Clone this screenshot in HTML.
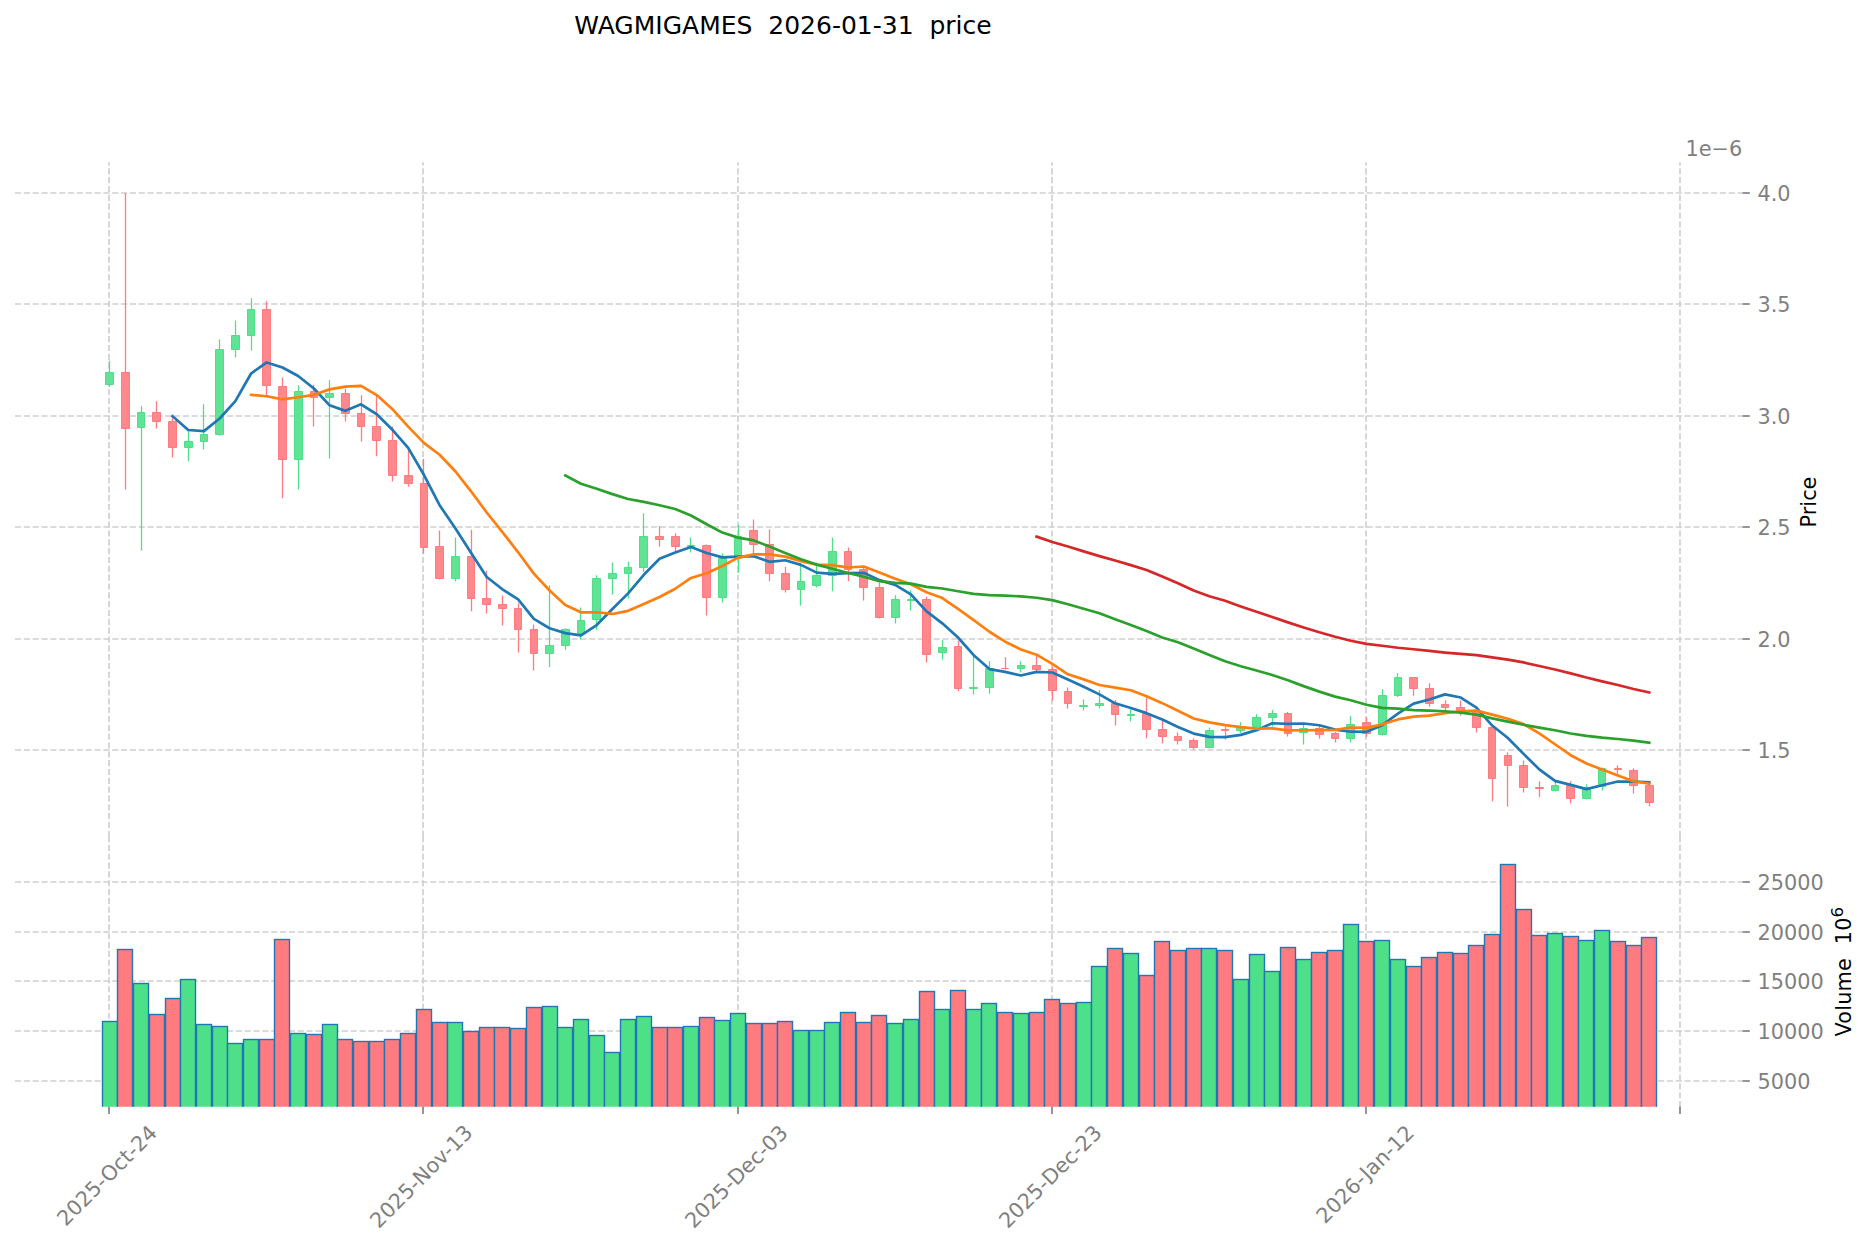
<!DOCTYPE html>
<html lang="en"><head><meta charset="utf-8"><title>WAGMIGAMES 2026-01-31 price</title>
<style>html,body{margin:0;padding:0;background:#fff}svg{display:block}text{font-family:"DejaVu Sans", "Liberation Sans", sans-serif;white-space:pre}</style></head><body>
<svg width="1872" height="1246" viewBox="0 0 1872 1246">
<rect width="1872" height="1246" fill="#fff"/>
<g fill="none" stroke="#cfcfcf" stroke-width="1.67">
<g stroke-dasharray="6.1667 2.6667">
<path d="M15 193H1742.5"/>
<path d="M15 304H1742.5"/>
<path d="M15 416H1742.5"/>
<path d="M15 527H1742.5"/>
<path d="M15 639H1742.5"/>
<path d="M15 750H1742.5"/>
<path d="M15 882H1742.5"/>
<path d="M15 932H1742.5"/>
<path d="M15 981H1742.5"/>
<path d="M15 1031H1742.5"/>
<path d="M15 1081H1742.5"/>
</g><g stroke-dasharray="6.1667 2.6667">
<path d="M109 1107.2V836.9"/>
<path d="M109 836.9V162.3"/>
<path d="M423 1107.2V836.9"/>
<path d="M423 836.9V162.3"/>
<path d="M738 1107.2V836.9"/>
<path d="M738 836.9V162.3"/>
<path d="M1052 1107.2V836.9"/>
<path d="M1052 836.9V162.3"/>
<path d="M1366 1107.2V836.9"/>
<path d="M1366 836.9V162.3"/>
<path d="M1680 1107.2V836.9"/>
<path d="M1680 836.9V162.3"/>
</g></g>
<g fill="none" stroke="#808080" stroke-width="1.67">
<path d="M1742.5 193h7.3"/>
<path d="M1742.5 304h7.3"/>
<path d="M1742.5 416h7.3"/>
<path d="M1742.5 527h7.3"/>
<path d="M1742.5 639h7.3"/>
<path d="M1742.5 750h7.3"/>
<path d="M1742.5 882h7.3"/>
<path d="M1742.5 932h7.3"/>
<path d="M1742.5 981h7.3"/>
<path d="M1742.5 1031h7.3"/>
<path d="M1742.5 1081h7.3"/>
<path d="M109 1106.6v7.3"/>
<path d="M423 1106.6v7.3"/>
<path d="M738 1106.6v7.3"/>
<path d="M1052 1106.6v7.3"/>
<path d="M1366 1106.6v7.3"/>
<path d="M1680 1106.6v7.3"/>
</g>
<clipPath id="vc"><rect x="0" y="840" width="1872" height="266.7"/></clipPath>
<g stroke="#1f77b4" stroke-width="1.4" clip-path="url(#vc)">
<rect x="102.5" y="1021.5" width="15" height="88.1" fill="#4ee089"/>
<rect x="117.5" y="949.5" width="15" height="160.1" fill="#ff7b80"/>
<rect x="133.5" y="983.5" width="15" height="126.1" fill="#4ee089"/>
<rect x="149.5" y="1014.5" width="15" height="95.1" fill="#ff7b80"/>
<rect x="165.5" y="998.5" width="15" height="111.1" fill="#ff7b80"/>
<rect x="180.5" y="979.5" width="15" height="130.1" fill="#4ee089"/>
<rect x="196.5" y="1024.5" width="15" height="85.1" fill="#4ee089"/>
<rect x="212.5" y="1026.5" width="15" height="83.1" fill="#4ee089"/>
<rect x="227.5" y="1043.5" width="15" height="66.1" fill="#4ee089"/>
<rect x="243.5" y="1039.5" width="15" height="70.1" fill="#4ee089"/>
<rect x="259.5" y="1039.5" width="15" height="70.1" fill="#ff7b80"/>
<rect x="274.5" y="939.5" width="15" height="170.1" fill="#ff7b80"/>
<rect x="290.5" y="1033.5" width="15" height="76.1" fill="#4ee089"/>
<rect x="306.5" y="1034.5" width="15" height="75.1" fill="#ff7b80"/>
<rect x="322.5" y="1024.5" width="15" height="85.1" fill="#4ee089"/>
<rect x="337.5" y="1039.5" width="15" height="70.1" fill="#ff7b80"/>
<rect x="353.5" y="1041.5" width="15" height="68.1" fill="#ff7b80"/>
<rect x="369.5" y="1041.5" width="15" height="68.1" fill="#ff7b80"/>
<rect x="384.5" y="1039.5" width="15" height="70.1" fill="#ff7b80"/>
<rect x="400.5" y="1033.5" width="15" height="76.1" fill="#ff7b80"/>
<rect x="416.5" y="1009.5" width="15" height="100.1" fill="#ff7b80"/>
<rect x="432.5" y="1022.5" width="15" height="87.1" fill="#ff7b80"/>
<rect x="447.5" y="1022.5" width="15" height="87.1" fill="#4ee089"/>
<rect x="463.5" y="1031.5" width="15" height="78.1" fill="#ff7b80"/>
<rect x="479.5" y="1027.5" width="15" height="82.1" fill="#ff7b80"/>
<rect x="494.5" y="1027.5" width="15" height="82.1" fill="#ff7b80"/>
<rect x="510.5" y="1028.5" width="15" height="81.1" fill="#ff7b80"/>
<rect x="526.5" y="1007.5" width="15" height="102.1" fill="#ff7b80"/>
<rect x="542.5" y="1006.5" width="15" height="103.1" fill="#4ee089"/>
<rect x="557.5" y="1027.5" width="15" height="82.1" fill="#4ee089"/>
<rect x="573.5" y="1019.5" width="15" height="90.1" fill="#4ee089"/>
<rect x="589.5" y="1035.5" width="15" height="74.1" fill="#4ee089"/>
<rect x="604.5" y="1052.5" width="15" height="57.1" fill="#4ee089"/>
<rect x="620.5" y="1019.5" width="15" height="90.1" fill="#4ee089"/>
<rect x="636.5" y="1016.5" width="15" height="93.1" fill="#4ee089"/>
<rect x="652.5" y="1027.5" width="15" height="82.1" fill="#ff7b80"/>
<rect x="667.5" y="1027.5" width="15" height="82.1" fill="#ff7b80"/>
<rect x="683.5" y="1026.5" width="15" height="83.1" fill="#4ee089"/>
<rect x="699.5" y="1017.5" width="15" height="92.1" fill="#ff7b80"/>
<rect x="714.5" y="1020.5" width="15" height="89.1" fill="#4ee089"/>
<rect x="730.5" y="1013.5" width="15" height="96.1" fill="#4ee089"/>
<rect x="746.5" y="1023.5" width="15" height="86.1" fill="#ff7b80"/>
<rect x="762.5" y="1023.5" width="15" height="86.1" fill="#ff7b80"/>
<rect x="777.5" y="1021.5" width="15" height="88.1" fill="#ff7b80"/>
<rect x="793.5" y="1030.5" width="15" height="79.1" fill="#4ee089"/>
<rect x="809.5" y="1030.5" width="15" height="79.1" fill="#4ee089"/>
<rect x="824.5" y="1022.5" width="15" height="87.1" fill="#4ee089"/>
<rect x="840.5" y="1012.5" width="15" height="97.1" fill="#ff7b80"/>
<rect x="856.5" y="1022.5" width="15" height="87.1" fill="#ff7b80"/>
<rect x="871.5" y="1015.5" width="15" height="94.1" fill="#ff7b80"/>
<rect x="887.5" y="1023.5" width="15" height="86.1" fill="#4ee089"/>
<rect x="903.5" y="1019.5" width="15" height="90.1" fill="#4ee089"/>
<rect x="919.5" y="991.5" width="15" height="118.1" fill="#ff7b80"/>
<rect x="934.5" y="1009.5" width="15" height="100.1" fill="#4ee089"/>
<rect x="950.5" y="990.5" width="15" height="119.1" fill="#ff7b80"/>
<rect x="966.5" y="1009.5" width="15" height="100.1" fill="#4ee089"/>
<rect x="981.5" y="1003.5" width="15" height="106.1" fill="#4ee089"/>
<rect x="997.5" y="1012.5" width="15" height="97.1" fill="#ff7b80"/>
<rect x="1013.5" y="1013.5" width="15" height="96.1" fill="#4ee089"/>
<rect x="1029.5" y="1012.5" width="15" height="97.1" fill="#ff7b80"/>
<rect x="1044.5" y="999.5" width="15" height="110.1" fill="#ff7b80"/>
<rect x="1060.5" y="1003.5" width="15" height="106.1" fill="#ff7b80"/>
<rect x="1076.5" y="1002.5" width="15" height="107.1" fill="#4ee089"/>
<rect x="1091.5" y="966.5" width="15" height="143.1" fill="#4ee089"/>
<rect x="1107.5" y="948.5" width="15" height="161.1" fill="#ff7b80"/>
<rect x="1123.5" y="953.5" width="15" height="156.1" fill="#4ee089"/>
<rect x="1139.5" y="975.5" width="15" height="134.1" fill="#ff7b80"/>
<rect x="1154.5" y="941.5" width="15" height="168.1" fill="#ff7b80"/>
<rect x="1170.5" y="950.5" width="15" height="159.1" fill="#ff7b80"/>
<rect x="1186.5" y="948.5" width="15" height="161.1" fill="#ff7b80"/>
<rect x="1201.5" y="948.5" width="15" height="161.1" fill="#4ee089"/>
<rect x="1217.5" y="950.5" width="15" height="159.1" fill="#ff7b80"/>
<rect x="1233.5" y="979.5" width="15" height="130.1" fill="#4ee089"/>
<rect x="1249.5" y="954.5" width="15" height="155.1" fill="#4ee089"/>
<rect x="1264.5" y="971.5" width="15" height="138.1" fill="#4ee089"/>
<rect x="1280.5" y="947.5" width="15" height="162.1" fill="#ff7b80"/>
<rect x="1296.5" y="959.5" width="15" height="150.1" fill="#4ee089"/>
<rect x="1311.5" y="952.5" width="15" height="157.1" fill="#ff7b80"/>
<rect x="1327.5" y="950.5" width="15" height="159.1" fill="#ff7b80"/>
<rect x="1343.5" y="924.5" width="15" height="185.1" fill="#4ee089"/>
<rect x="1358.5" y="941.5" width="15" height="168.1" fill="#ff7b80"/>
<rect x="1374.5" y="940.5" width="15" height="169.1" fill="#4ee089"/>
<rect x="1390.5" y="959.5" width="15" height="150.1" fill="#4ee089"/>
<rect x="1406.5" y="966.5" width="15" height="143.1" fill="#ff7b80"/>
<rect x="1421.5" y="957.5" width="15" height="152.1" fill="#ff7b80"/>
<rect x="1437.5" y="952.5" width="15" height="157.1" fill="#ff7b80"/>
<rect x="1453.5" y="953.5" width="15" height="156.1" fill="#ff7b80"/>
<rect x="1468.5" y="945.5" width="15" height="164.1" fill="#ff7b80"/>
<rect x="1484.5" y="934.5" width="15" height="175.1" fill="#ff7b80"/>
<rect x="1500.5" y="864.5" width="15" height="245.1" fill="#ff7b80"/>
<rect x="1516.5" y="909.5" width="15" height="200.1" fill="#ff7b80"/>
<rect x="1531.5" y="935.5" width="15" height="174.1" fill="#ff7b80"/>
<rect x="1547.5" y="933.5" width="15" height="176.1" fill="#4ee089"/>
<rect x="1563.5" y="936.5" width="15" height="173.1" fill="#ff7b80"/>
<rect x="1578.5" y="940.5" width="15" height="169.1" fill="#4ee089"/>
<rect x="1594.5" y="930.5" width="15" height="179.1" fill="#4ee089"/>
<rect x="1610.5" y="941.5" width="15" height="168.1" fill="#ff7b80"/>
<rect x="1626.5" y="945.5" width="15" height="164.1" fill="#ff7b80"/>
<rect x="1641.5" y="937.5" width="15" height="172.1" fill="#ff7b80"/>
</g>
<path d="M109.5 360.8V372M109.5 385V387.1M141.5 406.3V412M141.5 428V550.4M188.5 429V441M188.5 448V461.2M203.5 404.3V434M203.5 442V449.4M219.5 339.5V349M219.5 435V435.7M235.5 320.5V335M235.5 350V357.6M251.5 298.3V309M251.5 336V350.4M298.5 385.3V391M298.5 460V489.6M329.5 380.3V393M329.5 398V458.4M455.5 537.5V556M455.5 579V581.2M549.5 585.3V645M549.5 654V667.1M565.5 628.2V629M565.5 646V649.7M580.5 607.5V620M580.5 634V639.7M596.5 575.3V578M596.5 620V629.7M612.5 562.5V573M612.5 579V594.6M628.5 561.7V567M628.5 574V598.7M643.5 513.3V536M643.5 568V572.1M690.5 537.5V545M690.5 547V552.4M722.5 553.3V558M722.5 598V602.6M738.5 525V536M738.5 559V572.9M800.5 563.3V581M800.5 590V605.4M816.5 562.5V575M816.5 586V587.6M832.5 537.5V551M832.5 576V591.2M895.5 595.3V599M895.5 618V623.4M910.5 590.3V599M910.5 601V610.4M942.5 639.7V647M942.5 653V659.6M973.5 655V687M973.5 689V694.6M989.5 661.3V668M989.5 688V693.7M1020.5 661.3V665M1020.5 669V672.4M1083.5 699.5V705M1083.5 707V710.4M1099.5 690V703M1099.5 706V708.4M1130.5 709.2V714M1130.5 716V721.2M1209.5 727.5V730M1209.5 748V748.4M1240.5 722.2V726M1240.5 731V732.9M1256.5 714.2V717M1256.5 727V727.9M1272.5 710V713M1272.5 718V726.4M1303.5 725V728M1303.5 733V744.6M1350.5 716.3V724M1350.5 739V742.6M1382.5 689.2V695M1382.5 735V735.4M1397.5 673.3V677M1397.5 696V697.1M1555.5 781V785M1555.5 791V791.2M1586.5 784.2V787M1586.5 799V799.6M1602.5 767.5V768M1602.5 787V790.4" fill="none" stroke="#4ee089" stroke-width="1.3"/>
<path d="M125.5 192.9V372M125.5 429V489.6M156.5 401.3V412M156.5 422V428.4M172.5 416.7V421M172.5 448V457.4M266.5 301.3V309M266.5 386V397.1M282.5 377.5V386M282.5 460V497.9M313.5 384.7V391M313.5 398V426.6M345.5 388.7V393M345.5 414V421.4M361.5 395.3V413M361.5 427V441.4M376.5 395V426M376.5 441V456.2M392.5 426.5V440M392.5 476V481.6M408.5 447V475M408.5 484V486.7M423.5 458.7V483M423.5 548V553.4M439.5 530.5V546M439.5 579V579.6M471.5 529.7V556M471.5 599V611.2M486.5 570.8V598M486.5 605V613.4M502.5 595.5V604M502.5 609V625.4M518.5 603.3V608M518.5 630V652.4M533.5 624.5V629M533.5 654V670.4M659.5 526.3V536M659.5 540V546.7M675.5 533.3V536M675.5 547V551.2M706.5 544.5V545M706.5 598V615.4M753.5 519.5V530M753.5 545V553.7M769.5 529.5V544M769.5 574V581.2M785.5 566.7V573M785.5 590V592.4M848.5 547.5V551M848.5 570V581.2M863.5 568V569M863.5 588V600.4M879.5 582.5V587M879.5 618V618.4M926.5 596.7V599M926.5 655V662.4M958.5 640.8V646M958.5 689V691.2M1005.5 657.2V668M1005.5 669V669.6M1036.5 655V665M1036.5 670V671.2M1052.5 666.7V669M1052.5 691V700.4M1067.5 687.5V691M1067.5 704V708.4M1115.5 700V703M1115.5 715V725.4M1146.5 697.2V713M1146.5 730V738.2M1162.5 720.8V729M1162.5 737V743.4M1177.5 732.5V736M1177.5 741V744.6M1193.5 738.3V740M1193.5 748V749.6M1225.5 726.7V729M1225.5 731V739.6M1287.5 712V713M1287.5 734V736.6M1319.5 725.8V728M1319.5 735V738.7M1335.5 732V733M1335.5 739V742.6M1366.5 717.5V722M1366.5 734V737.1M1413.5 689V695.7M1429.5 683.3V688M1429.5 704V706.7M1445.5 700.3V704M1445.5 708V710.4M1460.5 700.6V707M1460.5 711V715.8M1476.5 710V711M1476.5 728V732.4M1492.5 726.5V727M1492.5 779V801.2M1507.5 752.3V755M1507.5 766V806.4M1523.5 760.4V765M1523.5 788V792.6M1539.5 781.3V787M1539.5 789V797.2M1570.5 781.3V785M1570.5 799V803.4M1617.5 765.3V768M1617.5 770V773.7M1633.5 768.3V770M1633.5 786V793.4M1649.5 784.5V785M1649.5 803V806.2" fill="none" stroke="#ff7b80" stroke-width="1.3"/>
<g fill="#60e395" stroke="#4ee089" stroke-width="1"><path d="M105.5 372.5H113.5V384.5H105.5Z"/><path d="M137.5 412.5H144.5V427.5H137.5Z"/><path d="M184.5 441.5H192.5V447.5H184.5Z"/><path d="M200.5 434.5H207.5V441.5H200.5Z"/><path d="M215.5 349.5H223.5V434.5H215.5Z"/><path d="M231.5 335.5H239.5V349.5H231.5Z"/><path d="M247.5 309.5H254.5V335.5H247.5Z"/><path d="M294.5 391.5H302.5V459.5H294.5Z"/><path d="M325.5 393.5H333.5V397.5H325.5Z"/><path d="M451.5 556.5H459.5V578.5H451.5Z"/><path d="M545.5 645.5H553.5V653.5H545.5Z"/><path d="M561.5 629.5H569.5V645.5H561.5Z"/><path d="M577.5 620.5H584.5V633.5H577.5Z"/><path d="M592.5 578.5H600.5V619.5H592.5Z"/><path d="M608.5 573.5H616.5V578.5H608.5Z"/><path d="M624.5 567.5H631.5V573.5H624.5Z"/><path d="M639.5 536.5H647.5V567.5H639.5Z"/><path d="M687.5 545.5H694.5V546.5H687.5Z"/><path d="M718.5 558.5H726.5V597.5H718.5Z"/><path d="M734.5 536.5H741.5V558.5H734.5Z"/><path d="M797.5 581.5H804.5V589.5H797.5Z"/><path d="M812.5 575.5H820.5V585.5H812.5Z"/><path d="M828.5 551.5H836.5V575.5H828.5Z"/><path d="M891.5 599.5H899.5V617.5H891.5Z"/><path d="M907.5 599.5H914.5V600.5H907.5Z"/><path d="M938.5 647.5H946.5V652.5H938.5Z"/><path d="M969.5 687.5H977.5V688.5H969.5Z"/><path d="M985.5 668.5H993.5V687.5H985.5Z"/><path d="M1017.5 665.5H1024.5V668.5H1017.5Z"/><path d="M1079.5 705.5H1087.5V706.5H1079.5Z"/><path d="M1095.5 703.5H1103.5V705.5H1095.5Z"/><path d="M1127.5 714.5H1134.5V715.5H1127.5Z"/><path d="M1205.5 730.5H1213.5V747.5H1205.5Z"/><path d="M1236.5 726.5H1244.5V730.5H1236.5Z"/><path d="M1252.5 717.5H1260.5V726.5H1252.5Z"/><path d="M1268.5 713.5H1276.5V717.5H1268.5Z"/><path d="M1299.5 728.5H1307.5V732.5H1299.5Z"/><path d="M1346.5 724.5H1354.5V738.5H1346.5Z"/><path d="M1378.5 695.5H1386.5V734.5H1378.5Z"/><path d="M1394.5 677.5H1401.5V695.5H1394.5Z"/><path d="M1551.5 785.5H1558.5V790.5H1551.5Z"/><path d="M1582.5 787.5H1590.5V798.5H1582.5Z"/><path d="M1598.5 768.5H1605.5V786.5H1598.5Z"/></g>
<g fill="#ff888d" stroke="#ff7b80" stroke-width="1"><path d="M121.5 372.5H129.5V428.5H121.5Z"/><path d="M152.5 412.5H160.5V421.5H152.5Z"/><path d="M168.5 421.5H176.5V447.5H168.5Z"/><path d="M262.5 309.5H270.5V385.5H262.5Z"/><path d="M278.5 386.5H286.5V459.5H278.5Z"/><path d="M310.5 391.5H317.5V397.5H310.5Z"/><path d="M341.5 393.5H349.5V413.5H341.5Z"/><path d="M357.5 413.5H364.5V426.5H357.5Z"/><path d="M372.5 426.5H380.5V440.5H372.5Z"/><path d="M388.5 440.5H396.5V475.5H388.5Z"/><path d="M404.5 475.5H412.5V483.5H404.5Z"/><path d="M420.5 483.5H427.5V547.5H420.5Z"/><path d="M435.5 546.5H443.5V578.5H435.5Z"/><path d="M467.5 556.5H474.5V598.5H467.5Z"/><path d="M482.5 598.5H490.5V604.5H482.5Z"/><path d="M498.5 604.5H506.5V608.5H498.5Z"/><path d="M514.5 608.5H521.5V629.5H514.5Z"/><path d="M530.5 629.5H537.5V653.5H530.5Z"/><path d="M655.5 536.5H663.5V539.5H655.5Z"/><path d="M671.5 536.5H679.5V546.5H671.5Z"/><path d="M702.5 545.5H710.5V597.5H702.5Z"/><path d="M749.5 530.5H757.5V544.5H749.5Z"/><path d="M765.5 544.5H773.5V573.5H765.5Z"/><path d="M781.5 573.5H789.5V589.5H781.5Z"/><path d="M844.5 551.5H851.5V569.5H844.5Z"/><path d="M859.5 569.5H867.5V587.5H859.5Z"/><path d="M875.5 587.5H883.5V617.5H875.5Z"/><path d="M922.5 599.5H930.5V654.5H922.5Z"/><path d="M954.5 646.5H961.5V688.5H954.5Z"/><path d="M1001.5 668.5H1008.5V668.5H1001.5Z"/><path d="M1032.5 665.5H1040.5V669.5H1032.5Z"/><path d="M1048.5 669.5H1056.5V690.5H1048.5Z"/><path d="M1064.5 691.5H1071.5V703.5H1064.5Z"/><path d="M1111.5 703.5H1118.5V714.5H1111.5Z"/><path d="M1142.5 713.5H1150.5V729.5H1142.5Z"/><path d="M1158.5 729.5H1166.5V736.5H1158.5Z"/><path d="M1174.5 736.5H1181.5V740.5H1174.5Z"/><path d="M1189.5 740.5H1197.5V747.5H1189.5Z"/><path d="M1221.5 729.5H1228.5V730.5H1221.5Z"/><path d="M1284.5 713.5H1291.5V733.5H1284.5Z"/><path d="M1315.5 728.5H1323.5V734.5H1315.5Z"/><path d="M1331.5 733.5H1338.5V738.5H1331.5Z"/><path d="M1362.5 722.5H1370.5V733.5H1362.5Z"/><path d="M1409.5 677.5H1417.5V688.5H1409.5Z"/><path d="M1425.5 688.5H1433.5V703.5H1425.5Z"/><path d="M1441.5 704.5H1448.5V707.5H1441.5Z"/><path d="M1456.5 707.5H1464.5V710.5H1456.5Z"/><path d="M1472.5 711.5H1480.5V727.5H1472.5Z"/><path d="M1488.5 727.5H1495.5V778.5H1488.5Z"/><path d="M1504.5 755.5H1511.5V765.5H1504.5Z"/><path d="M1519.5 765.5H1527.5V787.5H1519.5Z"/><path d="M1535.5 787.5H1543.5V788.5H1535.5Z"/><path d="M1566.5 785.5H1574.5V798.5H1566.5Z"/><path d="M1614.5 768.5H1621.5V769.5H1614.5Z"/><path d="M1629.5 770.5H1637.5V785.5H1629.5Z"/><path d="M1645.5 785.5H1653.5V802.5H1645.5Z"/></g>
<path d="M172.52 416.22L188.23 430.02L203.94 431.12L219.65 418.48L235.36 401.14L251.07 373.48L266.78 362.42L282.49 367.56L298.2 375.96L313.91 388.5L329.62 405.3L345.33 410.86L361.04 404.3L376.75 414.24L392.46 429.8L408.17 447.94L423.88 474.78L439.59 505.18L455.3 528.24L471.01 552.84L486.72 577.04L502.43 589.28L518.14 599.44L533.85 618.94L549.56 628.24L565.27 633.1L580.98 635.36L596.69 625.02L612.4 608.96L628.11 593.4L643.82 574.76L659.53 558.7L675.24 552.48L690.95 546.94L706.66 553L722.37 557.34L738.08 556.64L753.79 556.24L769.5 561.84L785.21 560.24L800.92 564.9L816.63 572.66L832.34 573.96L848.05 573.2L863.76 572.8L879.47 580.14L895.18 584.9L910.89 594.42L926.6 611.42L942.31 623.32L958.02 637.48L973.73 655.16L989.44 669.06L1005.15 671.92L1020.86 675.52L1036.57 671.86L1052.28 672.48L1067.99 679.56L1083.7 686.8L1099.41 694.4L1115.12 703.3L1130.83 707.98L1146.54 713.14L1162.25 719.48L1177.96 726.98L1193.67 733.58L1209.38 736.84L1225.09 737.04L1240.8 734.86L1256.51 730.16L1272.22 723.26L1287.93 723.92L1303.64 723.48L1319.35 725.22L1335.06 729.56L1350.77 731.72L1366.48 731.8L1382.19 725.14L1397.9 713.64L1413.61 703.64L1429.32 699.54L1445.03 694.36L1460.74 697.52L1476.45 707.62L1492.16 725.54L1507.87 737.96L1523.58 753.86L1539.29 769.36L1555 780.86L1570.71 784.86L1586.42 789.14L1602.13 785.28L1617.84 781.52L1633.55 781.58L1649.26 782.36" fill="none" stroke="#1f77b4" stroke-width="2.7" stroke-linejoin="round" stroke-linecap="square"/>
<path d="M251.07 394.85L266.78 396.22L282.49 399.34L298.2 397.22L313.91 394.82L329.62 389.39L345.33 386.64L361.04 385.93L376.75 395.1L392.46 409.15L408.17 426.62L423.88 442.82L439.59 454.74L455.3 471.24L471.01 491.32L486.72 512.49L502.43 532.03L518.14 552.31L533.85 573.59L549.56 590.54L565.27 605.07L580.98 612.32L596.69 612.23L612.4 613.95L628.11 610.82L643.82 603.93L659.53 597.03L675.24 588.75L690.95 577.95L706.66 573.2L722.37 566.05L738.08 557.67L753.79 554.36L769.5 554.39L785.21 556.62L800.92 561.12L816.63 564.65L832.34 565.1L848.05 567.52L863.76 566.52L879.47 572.52L895.18 578.78L910.89 584.19L926.6 592.31L942.31 598.06L958.02 608.81L973.73 620.03L989.44 631.74L1005.15 641.67L1020.86 649.42L1036.57 654.67L1052.28 663.82L1067.99 674.31L1083.7 679.36L1099.41 684.96L1115.12 687.58L1130.83 690.23L1146.54 696.35L1162.25 703.14L1177.96 710.69L1193.67 718.44L1209.38 722.41L1225.09 725.09L1240.8 727.17L1256.51 728.57L1272.22 728.42L1287.93 730.38L1303.64 730.26L1319.35 730.04L1335.06 729.86L1350.77 727.49L1366.48 727.86L1382.19 724.31L1397.9 719.43L1413.61 716.6L1429.32 715.63L1445.03 713.08L1460.74 711.33L1476.45 710.63L1492.16 714.59L1507.87 718.75L1523.58 724.11L1539.29 733.44L1555 744.24L1570.71 755.2L1586.42 763.55L1602.13 769.57L1617.84 775.44L1633.55 781.22L1649.26 783.61" fill="none" stroke="#ff7f0e" stroke-width="2.7" stroke-linejoin="round" stroke-linecap="square"/>
<path d="M565.27 475.51L580.98 483.79L596.69 488.77L612.4 494.14L628.11 498.99L643.82 501.94L659.53 505.23L675.24 509L690.95 515.55L706.66 524.3L722.37 532.58L738.08 537.6L753.79 540.44L769.5 546.53L785.21 552.92L800.92 559.18L816.63 564.57L832.34 568.72L848.05 573.02L863.76 576.75L879.47 581.21L895.18 582.92L910.89 583.59L926.6 586.88L942.31 588.5L958.02 591.29L973.73 593.9L989.44 595.2L1005.15 595.71L1020.86 596.38L1036.57 597.75L1052.28 600.09L1067.99 604.29L1083.7 608.69L1099.41 613.21L1115.12 619.17L1130.83 624.97L1146.54 631.06L1162.25 637.44L1177.96 642.21L1193.67 648.54L1209.38 655L1225.09 661.2L1240.8 666.28L1256.51 670.53L1272.22 674.94L1287.93 680.21L1303.64 686.12L1319.35 691.62L1335.06 696.66L1350.77 700.2L1366.48 704.7L1382.19 707.9L1397.9 708.65L1413.61 710.04L1429.32 710.54L1445.03 711.23L1460.74 712.65L1476.45 714.6L1492.16 718.38L1507.87 721.56L1523.58 724.79L1539.29 727.61L1555 730.28L1570.71 733.46L1586.42 735.87L1602.13 737.68L1617.84 739.01L1633.55 740.63L1649.26 742.69" fill="none" stroke="#2ca02c" stroke-width="2.7" stroke-linejoin="round" stroke-linecap="square"/>
<path d="M1036.57 536.63L1052.28 541.94L1067.99 546.53L1083.7 551.41L1099.41 556.1L1115.12 560.55L1130.83 565.1L1146.54 570.03L1162.25 576.5L1177.96 583.25L1193.67 590.56L1209.38 596.3L1225.09 600.82L1240.8 606.4L1256.51 611.73L1272.22 617.06L1287.93 622.39L1303.64 627.42L1319.35 632.32L1335.06 636.71L1350.77 640.71L1366.48 643.81L1382.19 645.75L1397.9 647.77L1413.61 649.27L1429.32 650.92L1445.03 652.57L1460.74 653.92L1476.45 655.16L1492.16 657.38L1507.87 659.65L1523.58 662.44L1539.29 665.95L1555 669.48L1570.71 673.33L1586.42 677.52L1602.13 681.32L1617.84 685.04L1633.55 689.04L1649.26 692.45" fill="none" stroke="#d62728" stroke-width="2.7" stroke-linejoin="round" stroke-linecap="square"/>
<text x="783" y="33.9" font-size="25" text-anchor="middle" fill="#000" xml:space="preserve">WAGMIGAMES  2026-01-31  price</text>
<g font-size="20.83" fill="#808080">
<text x="1685.4" y="155.8">1e−6</text>
<text x="1757.5" y="200.8">4.0</text>
<text x="1757.5" y="311.8">3.5</text>
<text x="1757.5" y="423.8">3.0</text>
<text x="1757.5" y="534.8">2.5</text>
<text x="1757.5" y="646.8">2.0</text>
<text x="1757.5" y="757.8">1.5</text>
<text x="1757.5" y="889.8">25000</text>
<text x="1757.5" y="939.8">20000</text>
<text x="1757.5" y="988.8">15000</text>
<text x="1757.5" y="1038.8">10000</text>
<text x="1757.5" y="1088.8">5000</text>
<text transform="translate(106.7 1175.2) rotate(-45)" text-anchor="middle" dy="7.6">2025-Oct-24</text>
<text transform="translate(421 1176.2) rotate(-45)" text-anchor="middle" dy="7.6">2025-Nov-13</text>
<text transform="translate(736 1176.3) rotate(-45)" text-anchor="middle" dy="7.6">2025-Dec-03</text>
<text transform="translate(1050 1176.3) rotate(-45)" text-anchor="middle" dy="7.6">2025-Dec-23</text>
<text transform="translate(1364.7 1173.9) rotate(-45)" text-anchor="middle" dy="7.6">2026-Jan-12</text>
</g>
<g font-size="20.83" fill="#000">
<text transform="translate(1815.7 527.4) rotate(-90)">Price</text>
<text transform="translate(1851.3 1036.6) rotate(-90)" xml:space="preserve" letter-spacing="0.2">Volume  10<tspan font-size="16.7" dy="-7.9">6</tspan></text>
</g>
</svg></body></html>
